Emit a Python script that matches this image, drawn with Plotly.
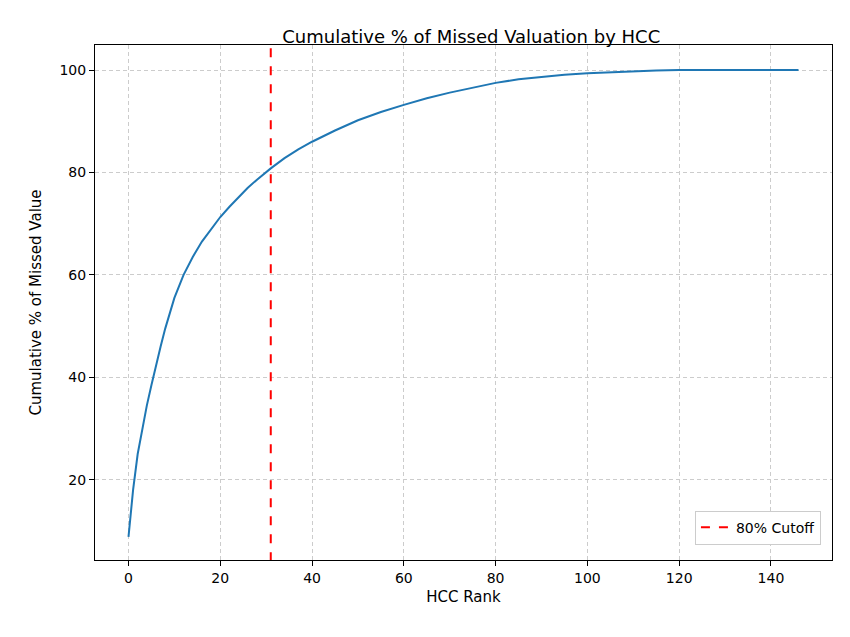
import plotly.graph_objects as go

# HCC rank vs cumulative % of missed value
rank = [0, 1, 2, 3, 4, 5, 6, 7, 8, 9, 10, 12, 14, 16, 18, 20, 22, 24, 26, 28, 31,
        34, 37, 40, 45, 50, 55, 60, 65, 70, 75, 80, 85, 90, 95, 100, 105, 110,
        115, 120, 130, 140, 146]
cum_pct = [8.8, 18, 25, 30, 34.5, 38.5, 42.5, 46, 49.5, 52.5, 55.5, 60, 63.5, 66.5,
           69, 71.3, 73.3, 75.2, 77, 78.6, 80.8, 82.8, 84.5, 86, 88.2, 90.2, 91.8,
           93.2, 94.5, 95.6, 96.6, 97.5, 98.2, 98.7, 99.1, 99.4, 99.6, 99.8,
           99.9, 100, 100, 100, 100]
cutoff = 31

fig = go.Figure()
fig.add_trace(go.Scatter(x=rank, y=cum_pct, mode="lines",
                         line=dict(color="#1f77b4", width=2), showlegend=False))
fig.add_trace(go.Scatter(x=[cutoff, cutoff], y=[-10, 200], mode="lines",
                         line=dict(color="red", width=2, dash="dash"),
                         name="80% Cutoff"))

axis = dict(showline=True, linecolor="black", mirror=True, ticks="outside",
            tickcolor="black", showgrid=True, gridcolor="#cccccc", griddash="4px,3px",
            zeroline=False, tickfont=dict(size=14, color="black"))
fig.update_xaxes(axis, range=[-7.3, 153.3], tickvals=list(range(0, 141, 20)),
                 title=dict(text="HCC Rank", standoff=6, font=dict(size=15, color="black")))
fig.update_yaxes(axis, range=[4.3, 104.9], tickvals=[20, 40, 60, 80, 100],
                 title=dict(text="Cumulative % of Missed Value", standoff=14,
                            font=dict(size=15, color="black")))
fig.update_layout(
    width=850, height=637, template="none",
    plot_bgcolor="white", paper_bgcolor="white",
    font=dict(family="DejaVu Sans", color="black"),
    margin=dict(l=87, r=26, t=37, b=85),
    title=dict(text="Cumulative % of Missed Valuation by HCC", x=0.545, xanchor="center",
               y=0.965, font=dict(size=18, color="black")),
    legend=dict(x=0.985, y=0.03, xanchor="right", yanchor="bottom",
                bordercolor="#cccccc", borderwidth=1, bgcolor="white",
                font=dict(size=14)),
)
fig.write_html("out.html")
